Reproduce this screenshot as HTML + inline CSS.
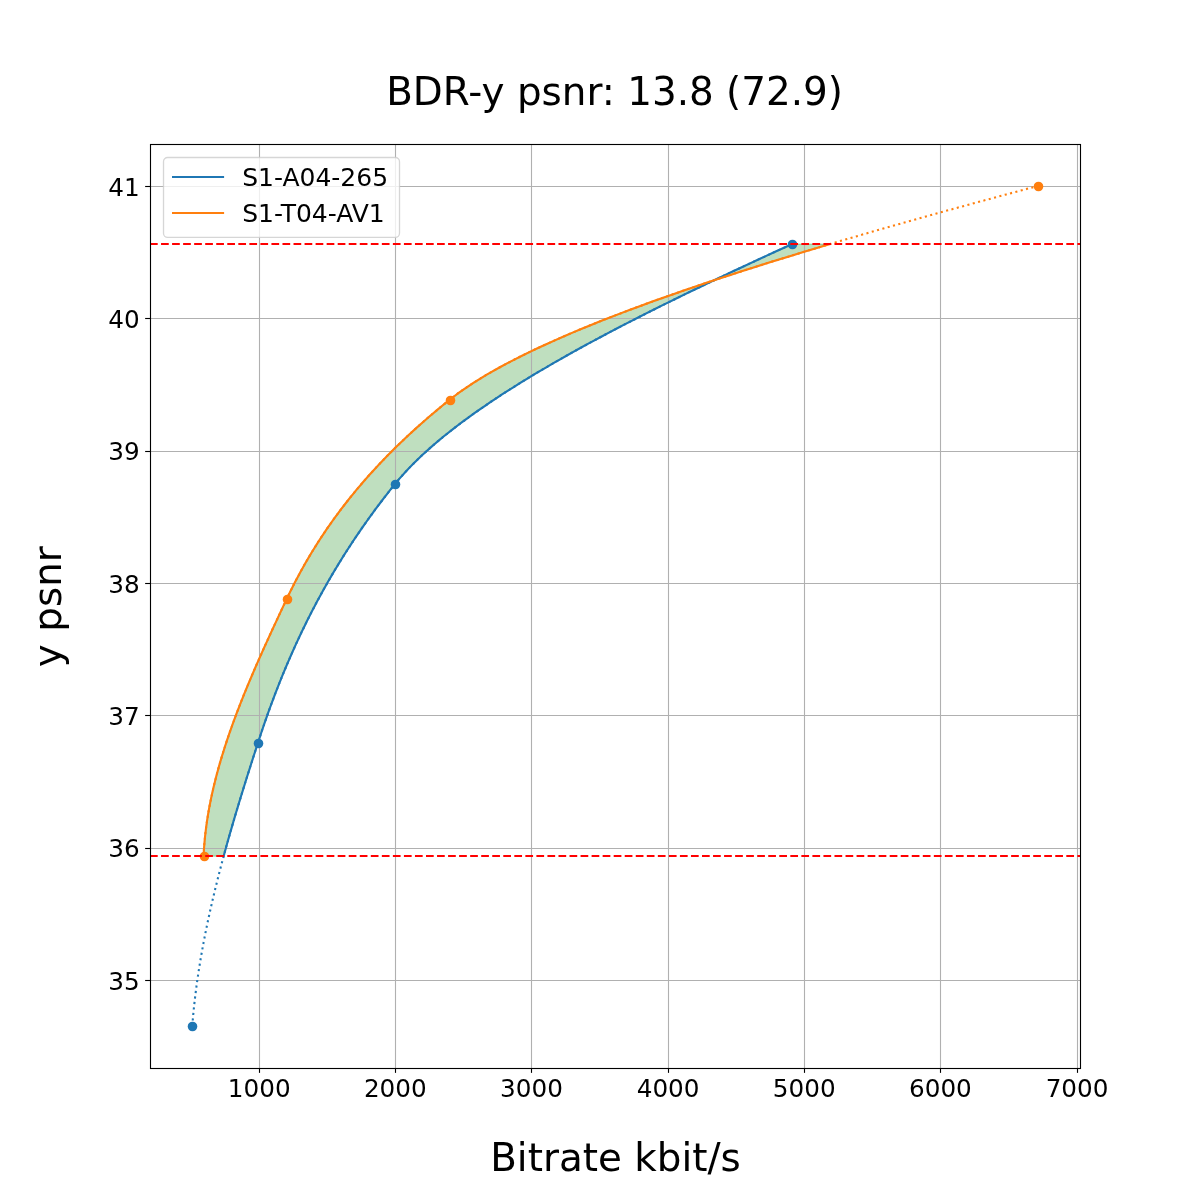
<!DOCTYPE html>
<html lang="en"><head><meta charset="utf-8"><title>BDR-y psnr: 13.8 (72.9)</title>
<style>html,body{margin:0;padding:0;background:#fff;}body{width:1200px;height:1200px;overflow:hidden;}svg text{white-space:pre;}</style></head>
<body>
<svg width="1200" height="1200" viewBox="0 0 1200 1200" style="display:block">
<rect x="0" y="0" width="1200" height="1200" fill="#ffffff"/>
<defs><clipPath id="ax"><rect x="150" y="144" width="930" height="924"/></clipPath></defs>
<g clip-path="url(#ax)">
<path d="M223.68 856.13 L224.72 852.28 L225.78 848.43 L226.85 844.58 L227.92 840.73 L229.01 836.89 L230.11 833.04 L231.22 829.19 L232.33 825.34 L233.46 821.49 L234.59 817.64 L235.73 813.79 L236.88 809.94 L238.04 806.09 L239.20 802.24 L240.38 798.39 L241.56 794.54 L242.74 790.69 L243.93 786.85 L245.13 783.00 L246.34 779.15 L247.55 775.30 L248.76 771.45 L249.98 767.60 L251.21 763.75 L252.44 759.90 L253.67 756.05 L254.91 752.20 L256.15 748.35 L257.39 744.50 L258.64 740.65 L259.91 736.81 L261.19 732.96 L262.49 729.11 L263.80 725.26 L265.14 721.41 L266.48 717.56 L267.85 713.71 L269.23 709.86 L270.64 706.01 L272.06 702.16 L273.50 698.31 L274.96 694.46 L276.44 690.61 L277.93 686.77 L279.45 682.92 L281.00 679.07 L282.56 675.22 L284.14 671.37 L285.75 667.52 L287.38 663.67 L289.03 659.82 L290.70 655.97 L292.40 652.12 L294.12 648.27 L295.87 644.42 L297.64 640.57 L299.43 636.73 L301.25 632.88 L303.10 629.03 L304.97 625.18 L306.87 621.33 L308.80 617.48 L310.75 613.63 L312.73 609.78 L314.74 605.93 L316.78 602.08 L318.84 598.23 L320.94 594.38 L323.06 590.54 L325.22 586.69 L327.40 582.84 L329.62 578.99 L331.86 575.14 L334.14 571.29 L336.45 567.44 L338.79 563.59 L341.17 559.74 L343.57 555.89 L346.01 552.04 L348.48 548.19 L350.99 544.34 L353.53 540.50 L356.11 536.65 L358.72 532.80 L361.37 528.95 L364.05 525.10 L366.77 521.25 L369.52 517.40 L372.32 513.55 L375.14 509.70 L378.01 505.85 L380.92 502.00 L383.86 498.15 L386.84 494.30 L389.86 490.46 L392.92 486.61 L396.03 482.76 L399.26 478.91 L402.62 475.06 L406.13 471.21 L409.77 467.36 L413.54 463.51 L417.45 459.66 L421.49 455.81 L425.66 451.96 L429.95 448.11 L434.37 444.26 L438.92 440.42 L443.58 436.57 L448.37 432.72 L453.27 428.87 L458.29 425.02 L463.43 421.17 L468.67 417.32 L474.03 413.47 L479.50 409.62 L485.07 405.77 L490.75 401.92 L496.54 398.07 L502.42 394.22 L508.41 390.38 L514.49 386.53 L520.67 382.68 L526.94 378.83 L533.31 374.98 L539.77 371.13 L546.31 367.28 L552.95 363.43 L559.67 359.58 L566.47 355.73 L573.35 351.88 L580.32 348.03 L587.36 344.19 L594.48 340.34 L601.67 336.49 L608.94 332.64 L616.28 328.79 L623.68 324.94 L631.15 321.09 L638.69 317.24 L646.29 313.39 L653.96 309.54 L661.68 305.69 L669.46 301.84 L677.30 297.99 L685.19 294.15 L693.14 290.30 L701.13 286.45 L709.18 282.60 L717.27 278.75 L725.40 274.90 L733.59 271.05 L741.81 267.20 L750.07 263.35 L758.37 259.50 L766.71 255.65 L775.08 251.80 L783.48 247.95 L791.91 244.11 L829.83 244.11 L816.93 247.95 L804.16 251.80 L791.52 255.65 L779.02 259.50 L766.66 263.35 L754.45 267.20 L742.38 271.05 L730.47 274.90 L718.71 278.75 L707.11 282.60 L695.68 286.45 L684.41 290.30 L673.31 294.15 L662.39 297.99 L651.64 301.84 L641.08 305.69 L630.70 309.54 L620.51 313.39 L610.52 317.24 L600.72 321.09 L591.12 324.94 L581.73 328.79 L572.54 332.64 L563.57 336.49 L554.81 340.34 L546.27 344.19 L537.95 348.03 L529.86 351.88 L522.00 355.73 L514.37 359.58 L506.99 363.43 L499.84 367.28 L492.94 371.13 L486.29 374.98 L479.89 378.83 L473.74 382.68 L467.86 386.53 L462.24 390.38 L456.89 394.22 L451.81 398.07 L446.97 401.92 L442.23 405.77 L437.57 409.62 L432.98 413.47 L428.47 417.32 L424.03 421.17 L419.67 425.02 L415.37 428.87 L411.15 432.72 L407.01 436.57 L402.93 440.42 L398.92 444.26 L394.98 448.11 L391.11 451.96 L387.31 455.81 L383.58 459.66 L379.91 463.51 L376.30 467.36 L372.76 471.21 L369.28 475.06 L365.87 478.91 L362.52 482.76 L359.23 486.61 L356.00 490.46 L352.83 494.30 L349.72 498.15 L346.67 502.00 L343.67 505.85 L340.74 509.70 L337.85 513.55 L335.03 517.40 L332.25 521.25 L329.54 525.10 L326.87 528.95 L324.26 532.80 L321.70 536.65 L319.18 540.50 L316.72 544.34 L314.31 548.19 L311.95 552.04 L309.63 555.89 L307.36 559.74 L305.14 563.59 L302.96 567.44 L300.82 571.29 L298.73 575.14 L296.68 578.99 L294.68 582.84 L292.72 586.69 L290.79 590.54 L288.91 594.38 L287.06 598.23 L285.25 602.08 L283.43 605.93 L281.62 609.78 L279.82 613.63 L278.02 617.48 L276.22 621.33 L274.43 625.18 L272.65 629.03 L270.87 632.88 L269.11 636.73 L267.35 640.57 L265.60 644.42 L263.86 648.27 L262.13 652.12 L260.42 655.97 L258.71 659.82 L257.02 663.67 L255.34 667.52 L253.68 671.37 L252.03 675.22 L250.39 679.07 L248.77 682.92 L247.17 686.77 L245.59 690.61 L244.02 694.46 L242.48 698.31 L240.95 702.16 L239.44 706.01 L237.96 709.86 L236.49 713.71 L235.05 717.56 L233.63 721.41 L232.23 725.26 L230.86 729.11 L229.52 732.96 L228.20 736.81 L226.90 740.65 L225.63 744.50 L224.39 748.35 L223.18 752.20 L222.00 756.05 L220.84 759.90 L219.72 763.75 L218.63 767.60 L217.57 771.45 L216.54 775.30 L215.54 779.15 L214.58 783.00 L213.65 786.85 L212.76 790.69 L211.90 794.54 L211.08 798.39 L210.30 802.24 L209.55 806.09 L208.84 809.94 L208.17 813.79 L207.55 817.64 L206.96 821.49 L206.41 825.34 L205.90 829.19 L205.44 833.04 L205.02 836.89 L204.64 840.73 L204.31 844.58 L204.02 848.43 L203.78 852.28 L203.59 856.13Z" fill="#008000" fill-opacity="0.25" stroke="#008000" stroke-opacity="0.25" stroke-width="1.39"/>
<g stroke="#b0b0b0" stroke-width="1.11">
<line x1="259.5" y1="144" x2="259.5" y2="1068"/>
<line x1="395.5" y1="144" x2="395.5" y2="1068"/>
<line x1="531.5" y1="144" x2="531.5" y2="1068"/>
<line x1="668.5" y1="144" x2="668.5" y2="1068"/>
<line x1="804.5" y1="144" x2="804.5" y2="1068"/>
<line x1="940.5" y1="144" x2="940.5" y2="1068"/>
<line x1="1077.5" y1="144" x2="1077.5" y2="1068"/>
<line x1="150" y1="980.5" x2="1080" y2="980.5"/>
<line x1="150" y1="848.5" x2="1080" y2="848.5"/>
<line x1="150" y1="715.5" x2="1080" y2="715.5"/>
<line x1="150" y1="583.5" x2="1080" y2="583.5"/>
<line x1="150" y1="451.5" x2="1080" y2="451.5"/>
<line x1="150" y1="318.5" x2="1080" y2="318.5"/>
<line x1="150" y1="186.5" x2="1080" y2="186.5"/>
</g>
<path d="M192.27 1026.00 L192.67 1021.08 L193.10 1016.16 L193.57 1011.25 L194.07 1006.33 L194.61 1001.41 L195.18 996.49 L195.79 991.58 L196.43 986.66 L197.10 981.74 L197.81 976.82 L198.55 971.91 L199.32 966.99 L200.11 962.07 L200.94 957.15 L201.80 952.24 L202.69 947.32 L203.60 942.40 L204.55 937.48 L205.52 932.57 L206.51 927.65 L207.54 922.73 L208.59 917.81 L209.66 912.90 L210.76 907.98 L211.88 903.06 L213.02 898.14 L214.19 893.23 L215.38 888.31 L216.59 883.39 L217.83 878.47 L219.08 873.56 L220.35 868.64 L221.64 863.72 L222.96 858.80 L224.28 853.88 L225.63 848.97 L227.00 844.05 L228.38 839.13 L229.77 834.21 L231.19 829.30 L232.61 824.38 L234.05 819.46 L235.51 814.54 L236.98 809.63 L238.46 804.71 L239.95 799.79 L241.45 794.87 L242.97 789.96 L244.50 785.04 L246.03 780.12 L247.58 775.20 L249.13 770.29 L250.69 765.37 L252.26 760.45 L253.84 755.53 L255.42 750.62 L257.01 745.70 L258.60 740.78 L260.22 735.86 L261.87 730.95 L263.54 726.03 L265.24 721.11 L266.97 716.19 L268.72 711.28 L270.51 706.36 L272.33 701.44 L274.17 696.52 L276.05 691.60 L277.97 686.69 L279.91 681.77 L281.89 676.85 L283.91 671.93 L285.96 667.02 L288.05 662.10 L290.17 657.18 L292.34 652.26 L294.54 647.35 L296.78 642.43 L299.06 637.51 L301.39 632.59 L303.75 627.68 L306.16 622.76 L308.61 617.84 L311.11 612.92 L313.65 608.01 L316.24 603.09 L318.88 598.17 L321.56 593.25 L324.29 588.34 L327.07 583.42 L329.90 578.50 L332.78 573.58 L335.71 568.67 L338.70 563.75 L341.73 558.83 L344.82 553.91 L347.97 549.00 L351.17 544.08 L354.42 539.16 L357.74 534.24 L361.11 529.32 L364.54 524.41 L368.02 519.49 L371.57 514.57 L375.18 509.65 L378.85 504.74 L382.58 499.82 L386.38 494.90 L390.24 489.98 L394.16 485.07 L398.20 480.15 L402.47 475.23 L406.96 470.31 L411.68 465.40 L416.61 460.48 L421.76 455.56 L427.11 450.64 L432.68 445.73 L438.45 440.81 L444.41 435.89 L450.57 430.97 L456.93 426.06 L463.47 421.14 L470.19 416.22 L477.10 411.30 L484.18 406.39 L491.43 401.47 L498.85 396.55 L506.44 391.63 L514.19 386.72 L522.09 381.80 L530.15 376.88 L538.36 371.96 L546.72 367.04 L555.21 362.13 L563.85 357.21 L572.62 352.29 L581.52 347.37 L590.55 342.46 L599.70 337.54 L608.97 332.62 L618.35 327.70 L627.85 322.79 L637.46 317.87 L647.17 312.95 L656.98 308.03 L666.88 303.12 L676.88 298.20 L686.97 293.28 L697.14 288.36 L707.40 283.45 L717.73 278.53 L728.14 273.61 L738.61 268.69 L749.16 263.78 L759.76 258.86 L770.43 253.94 L781.14 249.02 L791.91 244.11" fill="none" stroke="#1f77b4" stroke-width="2.083" stroke-dasharray="2.083 3.437" stroke-linejoin="round"/>
<path d="M223.68 856.13 L224.72 852.28 L225.78 848.43 L226.85 844.58 L227.92 840.73 L229.01 836.89 L230.11 833.04 L231.22 829.19 L232.33 825.34 L233.46 821.49 L234.59 817.64 L235.73 813.79 L236.88 809.94 L238.04 806.09 L239.20 802.24 L240.38 798.39 L241.56 794.54 L242.74 790.69 L243.93 786.85 L245.13 783.00 L246.34 779.15 L247.55 775.30 L248.76 771.45 L249.98 767.60 L251.21 763.75 L252.44 759.90 L253.67 756.05 L254.91 752.20 L256.15 748.35 L257.39 744.50 L258.64 740.65 L259.91 736.81 L261.19 732.96 L262.49 729.11 L263.80 725.26 L265.14 721.41 L266.48 717.56 L267.85 713.71 L269.23 709.86 L270.64 706.01 L272.06 702.16 L273.50 698.31 L274.96 694.46 L276.44 690.61 L277.93 686.77 L279.45 682.92 L281.00 679.07 L282.56 675.22 L284.14 671.37 L285.75 667.52 L287.38 663.67 L289.03 659.82 L290.70 655.97 L292.40 652.12 L294.12 648.27 L295.87 644.42 L297.64 640.57 L299.43 636.73 L301.25 632.88 L303.10 629.03 L304.97 625.18 L306.87 621.33 L308.80 617.48 L310.75 613.63 L312.73 609.78 L314.74 605.93 L316.78 602.08 L318.84 598.23 L320.94 594.38 L323.06 590.54 L325.22 586.69 L327.40 582.84 L329.62 578.99 L331.86 575.14 L334.14 571.29 L336.45 567.44 L338.79 563.59 L341.17 559.74 L343.57 555.89 L346.01 552.04 L348.48 548.19 L350.99 544.34 L353.53 540.50 L356.11 536.65 L358.72 532.80 L361.37 528.95 L364.05 525.10 L366.77 521.25 L369.52 517.40 L372.32 513.55 L375.14 509.70 L378.01 505.85 L380.92 502.00 L383.86 498.15 L386.84 494.30 L389.86 490.46 L392.92 486.61 L396.03 482.76 L399.26 478.91 L402.62 475.06 L406.13 471.21 L409.77 467.36 L413.54 463.51 L417.45 459.66 L421.49 455.81 L425.66 451.96 L429.95 448.11 L434.37 444.26 L438.92 440.42 L443.58 436.57 L448.37 432.72 L453.27 428.87 L458.29 425.02 L463.43 421.17 L468.67 417.32 L474.03 413.47 L479.50 409.62 L485.07 405.77 L490.75 401.92 L496.54 398.07 L502.42 394.22 L508.41 390.38 L514.49 386.53 L520.67 382.68 L526.94 378.83 L533.31 374.98 L539.77 371.13 L546.31 367.28 L552.95 363.43 L559.67 359.58 L566.47 355.73 L573.35 351.88 L580.32 348.03 L587.36 344.19 L594.48 340.34 L601.67 336.49 L608.94 332.64 L616.28 328.79 L623.68 324.94 L631.15 321.09 L638.69 317.24 L646.29 313.39 L653.96 309.54 L661.68 305.69 L669.46 301.84 L677.30 297.99 L685.19 294.15 L693.14 290.30 L701.13 286.45 L709.18 282.60 L717.27 278.75 L725.40 274.90 L733.59 271.05 L741.81 267.20 L750.07 263.35 L758.37 259.50 L766.71 255.65 L775.08 251.80 L783.48 247.95 L791.91 244.11" fill="none" stroke="#1f77b4" stroke-width="2.083" stroke-linecap="square" stroke-linejoin="round"/>
<circle cx="192.50" cy="1026.50" r="4.8" fill="#1f77b4"/>
<circle cx="258.50" cy="743.50" r="4.8" fill="#1f77b4"/>
<circle cx="395.50" cy="484.50" r="4.8" fill="#1f77b4"/>
<circle cx="792.50" cy="244.50" r="4.8" fill="#1f77b4"/>
<path d="M203.59 856.13 L203.80 851.92 L204.07 847.70 L204.40 843.49 L204.78 839.27 L205.21 835.06 L205.70 830.84 L206.23 826.63 L206.82 822.41 L207.46 818.20 L208.14 813.98 L208.87 809.77 L209.65 805.56 L210.48 801.34 L211.35 797.13 L212.26 792.91 L213.22 788.70 L214.22 784.48 L215.26 780.27 L216.34 776.05 L217.46 771.84 L218.62 767.62 L219.82 763.41 L221.05 759.19 L222.32 754.98 L223.63 750.76 L224.97 746.55 L226.34 742.34 L227.75 738.12 L229.19 733.91 L230.66 729.69 L232.16 725.48 L233.68 721.26 L235.24 717.05 L236.82 712.83 L238.43 708.62 L240.07 704.40 L241.73 700.19 L243.41 695.97 L245.12 691.76 L246.85 687.54 L248.60 683.33 L250.37 679.12 L252.16 674.90 L253.97 670.69 L255.80 666.47 L257.64 662.26 L259.50 658.04 L261.37 653.83 L263.26 649.61 L265.16 645.40 L267.07 641.18 L269.00 636.97 L270.93 632.75 L272.88 628.54 L274.83 624.32 L276.79 620.11 L278.76 615.90 L280.73 611.68 L282.71 607.47 L284.70 603.25 L286.68 599.04 L288.70 594.82 L290.76 590.61 L292.86 586.39 L295.02 582.18 L297.23 577.96 L299.48 573.75 L301.79 569.53 L304.15 565.32 L306.57 561.10 L309.04 556.89 L311.56 552.68 L314.14 548.46 L316.78 544.25 L319.48 540.03 L322.24 535.82 L325.06 531.60 L327.94 527.39 L330.89 523.17 L333.90 518.96 L336.97 514.74 L340.11 510.53 L343.32 506.31 L346.59 502.10 L349.94 497.88 L353.35 493.67 L356.83 489.46 L360.39 485.24 L364.02 481.03 L367.72 476.81 L371.50 472.60 L375.35 468.38 L379.29 464.17 L383.30 459.95 L387.38 455.74 L391.55 451.52 L395.80 447.31 L400.13 443.09 L404.55 438.88 L409.05 434.66 L413.63 430.45 L418.30 426.24 L423.06 422.02 L427.90 417.81 L432.84 413.59 L437.86 409.38 L442.98 405.16 L448.19 400.95 L453.55 396.73 L459.23 392.52 L465.23 388.30 L471.55 384.09 L478.19 379.87 L485.13 375.66 L492.38 371.45 L499.93 367.23 L507.77 363.02 L515.90 358.80 L524.32 354.59 L533.01 350.37 L541.98 346.16 L551.21 341.94 L560.72 337.73 L570.48 333.51 L580.50 329.30 L590.76 325.08 L601.27 320.87 L612.02 316.65 L623.01 312.44 L634.23 308.23 L645.67 304.01 L657.33 299.80 L669.21 295.58 L681.30 291.37 L693.60 287.15 L706.09 282.94 L718.79 278.72 L731.67 274.51 L744.74 270.29 L757.99 266.08 L771.42 261.86 L785.02 257.65 L798.79 253.43 L812.71 249.22 L826.80 245.01 L841.04 240.79 L855.42 236.58 L869.95 232.36 L884.61 228.15 L899.41 223.93 L914.33 219.72 L929.38 215.50 L944.54 211.29 L959.82 207.07 L975.20 202.86 L990.69 198.64 L1006.28 194.43 L1021.96 190.21 L1037.73 186.00" fill="none" stroke="#ff7f0e" stroke-width="2.083" stroke-dasharray="2.083 3.437" stroke-linejoin="round"/>
<path d="M203.59 856.13 L203.78 852.28 L204.02 848.43 L204.31 844.58 L204.64 840.73 L205.02 836.89 L205.44 833.04 L205.90 829.19 L206.41 825.34 L206.96 821.49 L207.55 817.64 L208.17 813.79 L208.84 809.94 L209.55 806.09 L210.30 802.24 L211.08 798.39 L211.90 794.54 L212.76 790.69 L213.65 786.85 L214.58 783.00 L215.54 779.15 L216.54 775.30 L217.57 771.45 L218.63 767.60 L219.72 763.75 L220.84 759.90 L222.00 756.05 L223.18 752.20 L224.39 748.35 L225.63 744.50 L226.90 740.65 L228.20 736.81 L229.52 732.96 L230.86 729.11 L232.23 725.26 L233.63 721.41 L235.05 717.56 L236.49 713.71 L237.96 709.86 L239.44 706.01 L240.95 702.16 L242.48 698.31 L244.02 694.46 L245.59 690.61 L247.17 686.77 L248.77 682.92 L250.39 679.07 L252.03 675.22 L253.68 671.37 L255.34 667.52 L257.02 663.67 L258.71 659.82 L260.42 655.97 L262.13 652.12 L263.86 648.27 L265.60 644.42 L267.35 640.57 L269.11 636.73 L270.87 632.88 L272.65 629.03 L274.43 625.18 L276.22 621.33 L278.02 617.48 L279.82 613.63 L281.62 609.78 L283.43 605.93 L285.25 602.08 L287.06 598.23 L288.91 594.38 L290.79 590.54 L292.72 586.69 L294.68 582.84 L296.68 578.99 L298.73 575.14 L300.82 571.29 L302.96 567.44 L305.14 563.59 L307.36 559.74 L309.63 555.89 L311.95 552.04 L314.31 548.19 L316.72 544.34 L319.18 540.50 L321.70 536.65 L324.26 532.80 L326.87 528.95 L329.54 525.10 L332.25 521.25 L335.03 517.40 L337.85 513.55 L340.74 509.70 L343.67 505.85 L346.67 502.00 L349.72 498.15 L352.83 494.30 L356.00 490.46 L359.23 486.61 L362.52 482.76 L365.87 478.91 L369.28 475.06 L372.76 471.21 L376.30 467.36 L379.91 463.51 L383.58 459.66 L387.31 455.81 L391.11 451.96 L394.98 448.11 L398.92 444.26 L402.93 440.42 L407.01 436.57 L411.15 432.72 L415.37 428.87 L419.67 425.02 L424.03 421.17 L428.47 417.32 L432.98 413.47 L437.57 409.62 L442.23 405.77 L446.97 401.92 L451.81 398.07 L456.89 394.22 L462.24 390.38 L467.86 386.53 L473.74 382.68 L479.89 378.83 L486.29 374.98 L492.94 371.13 L499.84 367.28 L506.99 363.43 L514.37 359.58 L522.00 355.73 L529.86 351.88 L537.95 348.03 L546.27 344.19 L554.81 340.34 L563.57 336.49 L572.54 332.64 L581.73 328.79 L591.12 324.94 L600.72 321.09 L610.52 317.24 L620.51 313.39 L630.70 309.54 L641.08 305.69 L651.64 301.84 L662.39 297.99 L673.31 294.15 L684.41 290.30 L695.68 286.45 L707.11 282.60 L718.71 278.75 L730.47 274.90 L742.38 271.05 L754.45 267.20 L766.66 263.35 L779.02 259.50 L791.52 255.65 L804.16 251.80 L816.93 247.95 L829.83 244.11" fill="none" stroke="#ff7f0e" stroke-width="2.083" stroke-linecap="square" stroke-linejoin="round"/>
<circle cx="204.50" cy="856.50" r="4.8" fill="#ff7f0e"/>
<circle cx="287.50" cy="599.50" r="4.8" fill="#ff7f0e"/>
<circle cx="450.50" cy="400.50" r="4.8" fill="#ff7f0e"/>
<circle cx="1038.50" cy="186.50" r="4.8" fill="#ff7f0e"/>
<line x1="150" y1="856.00" x2="1080" y2="856.00" stroke="#ff0000" stroke-width="2.083" stroke-dasharray="7.707 3.333"/>
<line x1="150" y1="244.00" x2="1080" y2="244.00" stroke="#ff0000" stroke-width="2.083" stroke-dasharray="7.707 3.333"/>
</g>
<g stroke="#000000" stroke-width="1.11" fill="none">
<line x1="259.5" y1="1068" x2="259.5" y2="1072.86"/>
<line x1="395.5" y1="1068" x2="395.5" y2="1072.86"/>
<line x1="531.5" y1="1068" x2="531.5" y2="1072.86"/>
<line x1="668.5" y1="1068" x2="668.5" y2="1072.86"/>
<line x1="804.5" y1="1068" x2="804.5" y2="1072.86"/>
<line x1="940.5" y1="1068" x2="940.5" y2="1072.86"/>
<line x1="1077.5" y1="1068" x2="1077.5" y2="1072.86"/>
<line x1="145.14" y1="980.5" x2="150" y2="980.5"/>
<line x1="145.14" y1="848.5" x2="150" y2="848.5"/>
<line x1="145.14" y1="715.5" x2="150" y2="715.5"/>
<line x1="145.14" y1="583.5" x2="150" y2="583.5"/>
<line x1="145.14" y1="451.5" x2="150" y2="451.5"/>
<line x1="145.14" y1="318.5" x2="150" y2="318.5"/>
<line x1="145.14" y1="186.5" x2="150" y2="186.5"/>
<rect x="150.5" y="144.5" width="930" height="924"/>
</g>
<g font-family="'DejaVu Sans','Liberation Sans',sans-serif" font-size="24.7px" fill="#000000">
<text x="259.18" y="1096.8" text-anchor="middle">1000</text>
<text x="395.33" y="1096.8" text-anchor="middle">2000</text>
<text x="531.47" y="1096.8" text-anchor="middle">3000</text>
<text x="668.12" y="1096.8" text-anchor="middle">4000</text>
<text x="804.27" y="1096.8" text-anchor="middle">5000</text>
<text x="940.42" y="1096.8" text-anchor="middle">6000</text>
<text x="1077.07" y="1096.8" text-anchor="middle">7000</text>
<text x="139.7" y="989.75" text-anchor="end">35</text>
<text x="139.7" y="857.39" text-anchor="end">36</text>
<text x="139.7" y="725.03" text-anchor="end">37</text>
<text x="139.7" y="592.68" text-anchor="end">38</text>
<text x="139.7" y="460.32" text-anchor="end">39</text>
<text x="139.7" y="327.96" text-anchor="end">40</text>
<text x="139.7" y="195.60" text-anchor="end">41</text>
</g>
<rect x="163.5" y="157.5" width="236" height="79.9" rx="4.2" ry="4.2" fill="#ffffff" fill-opacity="0.8" stroke="#cccccc" stroke-opacity="0.8" stroke-width="1.3"/>
<line x1="172" y1="177" x2="224.1" y2="177" stroke="#1f77b4" stroke-width="2.083"/>
<line x1="172" y1="213" x2="224.1" y2="213" stroke="#ff7f0e" stroke-width="2.083"/>
<g font-family="'DejaVu Sans','Liberation Sans',sans-serif" font-size="25px" fill="#000000">
<text x="242.2" y="185.6">S1-A04-265</text>
<text x="242.2" y="221.7">S1-T04-AV1</text>
</g>
<g font-family="'DejaVu Sans','Liberation Sans',sans-serif" font-size="38.89px" fill="#000000" text-anchor="middle">
<text x="614.6" y="104.8">BDR-y psnr: 13.8 (72.9)</text>
<text x="615.5" y="1171.15">Bitrate kbit/s</text>
<text transform="translate(61.25 606.7) rotate(-90)">y psnr</text>
</g>
</svg>
</body></html>
